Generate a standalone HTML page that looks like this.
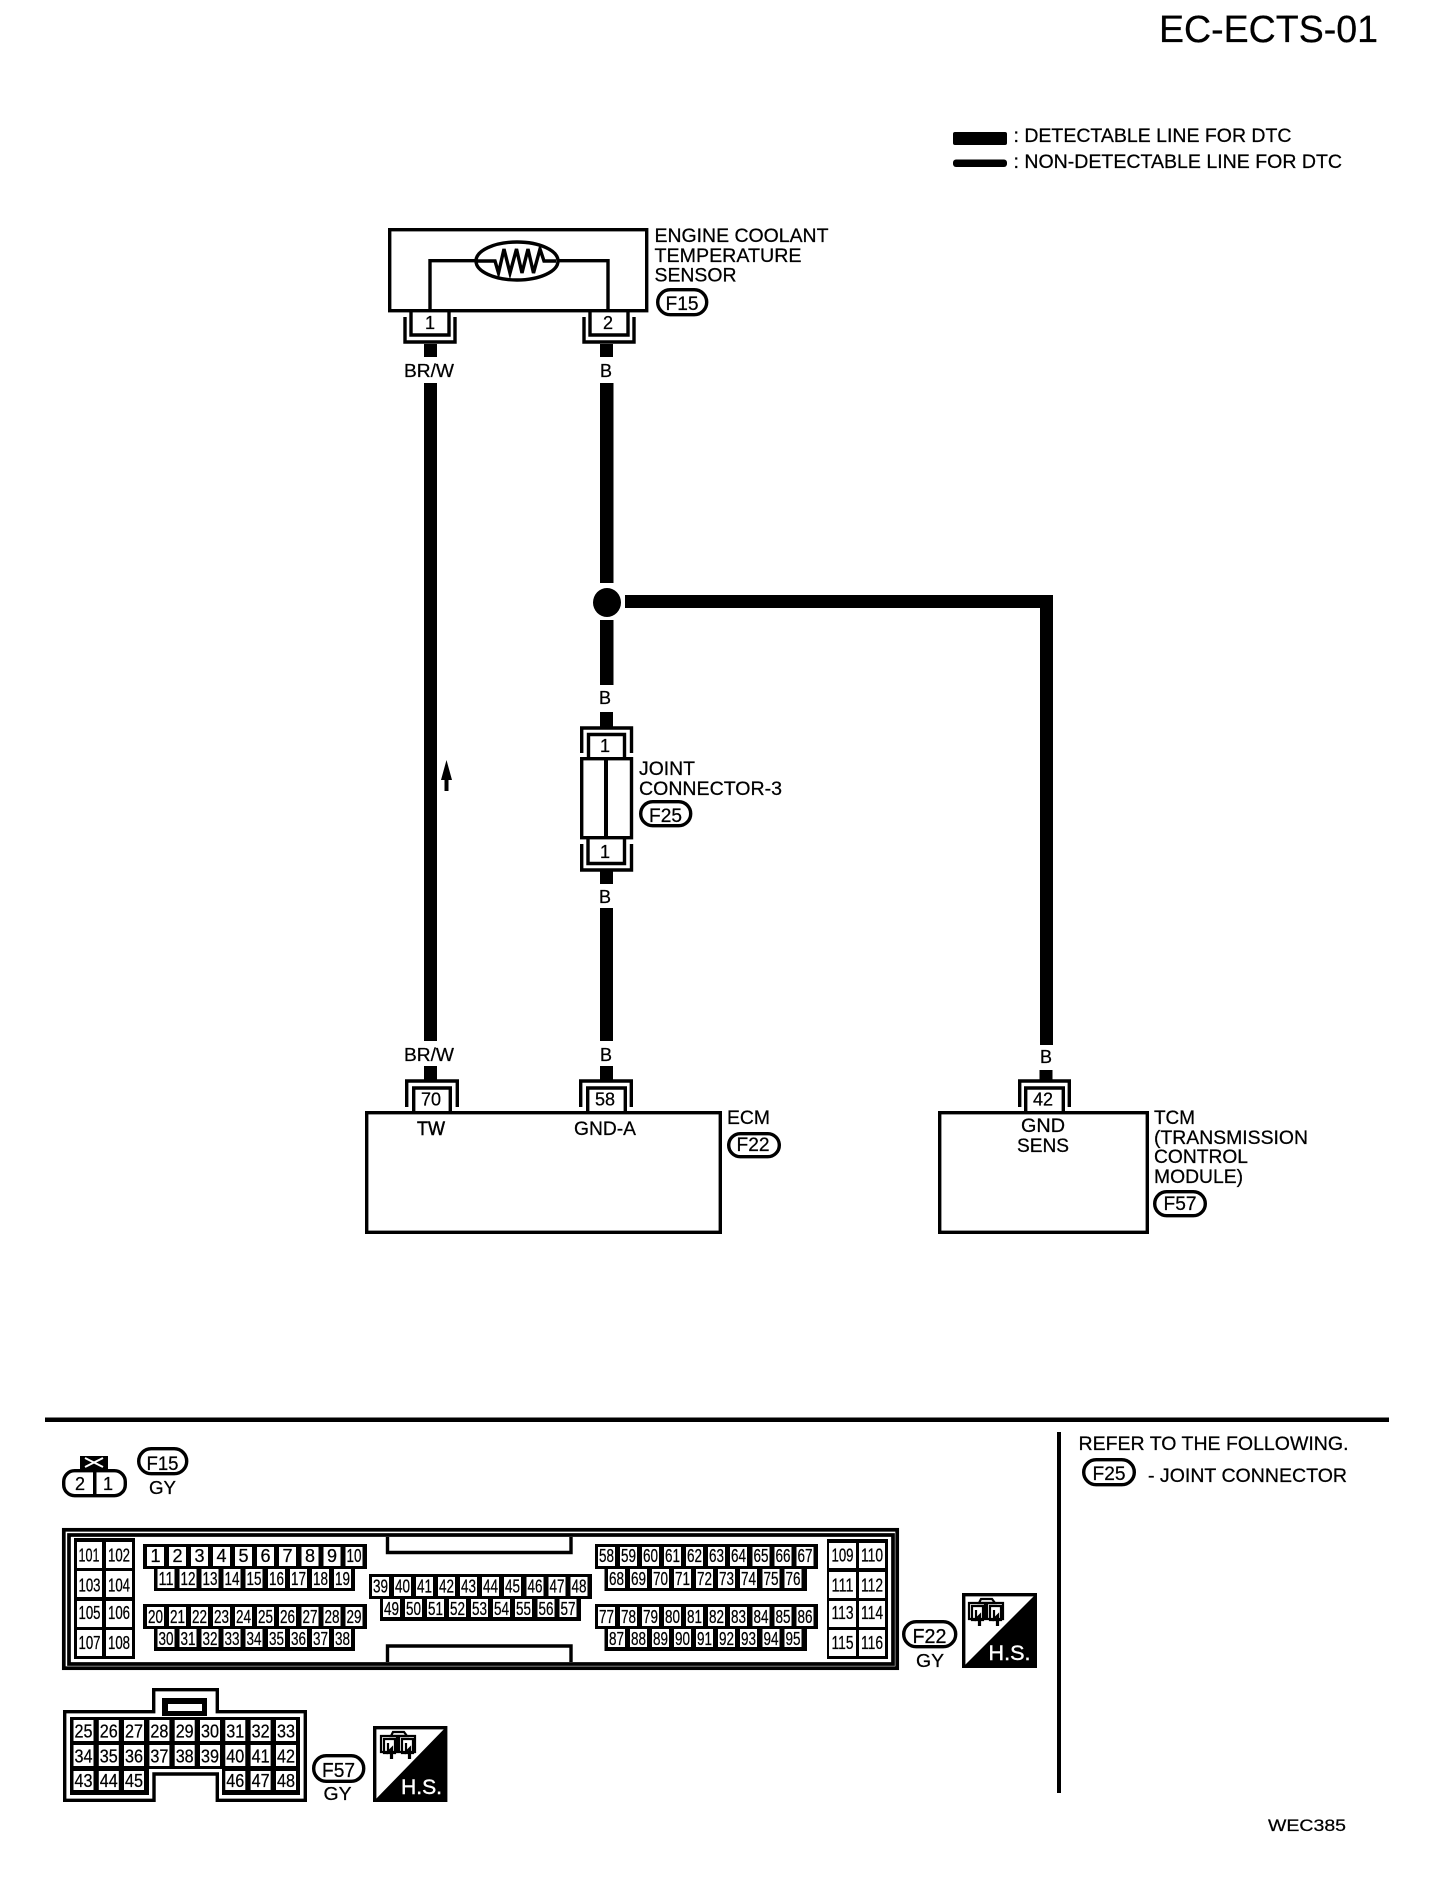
<!DOCTYPE html>
<html><head><meta charset="utf-8"><title>EC-ECTS-01</title>
<style>
html,body{margin:0;padding:0;background:#fff}
svg{display:block}
text{font-family:"Liberation Sans",sans-serif;font-size:19px;fill:#000;stroke:#000;stroke-width:.25}
.m{text-anchor:middle}
.n{font-size:18px}
.f{font-size:20px}
.l{fill:none;stroke:#000;stroke-width:3.4}
.p{fill:#fff;stroke:#000;stroke-width:3.4}
</style></head><body>
<svg width="1440" height="1886" viewBox="0 0 1440 1886" xmlns="http://www.w3.org/2000/svg">
<defs>
<g id="ico" fill="none" stroke="#000" stroke-width="2.2">
<path d="M13 1H24L27 5H11Z"/>
<path d="M1 5H17V21H1ZM4 8H15V22H4Z"/>
<path d="M19 5H35V21H19ZM22 8H33V22H22Z"/>
<path d="M8 12V21L12 17V28M11 20V28M26 12V21L30 17V28M29 20V28"/>
</g>
</defs>
<rect width="1440" height="1886" fill="#fff"/>

<!-- title and legend -->
<text x="1159" y="42" style="font-size:38px" textLength="219" lengthAdjust="spacingAndGlyphs">EC-ECTS-01</text>
<rect x="953" y="132" width="54" height="13" rx="2"/>
<rect x="953" y="159.500" width="54" height="7.500" rx="3"/>
<text x="1013.500" y="142" textLength="278" lengthAdjust="spacingAndGlyphs">: DETECTABLE LINE FOR DTC</text>
<text x="1013.500" y="168" textLength="328.500" lengthAdjust="spacingAndGlyphs">: NON-DETECTABLE LINE FOR DTC</text>

<!-- sensor -->
<rect x="389.700" y="229.700" width="257" height="81" class="l"/>
<path d="M430 311V260.700H608V311" class="l"/>
<ellipse cx="517" cy="261" rx="41" ry="19" class="p"/>
<path d="M477 261H495L498.500 273L504 249L510 273L516.500 249L522 273L528 249L533.500 273L540 249L544 261H556" class="l" stroke-width="3"/>
<path d="M411 312V335H449V312M405 317V342H455V317M590 312V335H628V312M584 317V342H634V317" class="l"/>
<text x="430" y="329" class="m n">1</text>
<text x="608" y="329" class="m n">2</text>
<text x="654.500" y="242" textLength="174" lengthAdjust="spacingAndGlyphs">ENGINE COOLANT</text>
<text x="654.500" y="262" textLength="147" lengthAdjust="spacingAndGlyphs">TEMPERATURE</text>
<text x="654.500" y="281.500" textLength="82" lengthAdjust="spacingAndGlyphs">SENSOR</text>
<rect x="657.700" y="289.700" width="49" height="25" rx="12.500" class="p"/>
<text x="682" y="310" class="m" textLength="33" lengthAdjust="spacingAndGlyphs">F15</text>

<!-- wires -->
<rect x="424" y="344" width="13" height="13"/>
<rect x="600" y="344" width="13" height="13"/>
<rect x="424" y="383" width="13" height="658"/>
<rect x="600" y="383" width="13.500" height="200"/>
<ellipse cx="607" cy="602.500" rx="14" ry="14.500"/>
<rect x="625" y="595" width="428" height="13"/>
<rect x="1040" y="595" width="13" height="450"/>
<rect x="600" y="620" width="13.500" height="65"/>
<rect x="600" y="712" width="13" height="15"/>
<rect x="600" y="871" width="13" height="13"/>
<rect x="600" y="908" width="13" height="133"/>
<rect x="424" y="1066" width="13" height="14"/>
<rect x="600" y="1066" width="13" height="14"/>
<rect x="1039.500" y="1070" width="13" height="10"/>
<path d="M446.500 760L452 780H448.500V791H444.500V780H441Z"/>

<text x="429" y="377" class="m n" textLength="50" lengthAdjust="spacingAndGlyphs">BR/W</text>
<text x="606" y="377" class="m n">B</text>
<text x="605" y="704" class="m n">B</text>
<text x="605" y="903" class="m n">B</text>
<text x="429" y="1061" class="m n" textLength="50" lengthAdjust="spacingAndGlyphs">BR/W</text>
<text x="606" y="1061" class="m n">B</text>
<text x="1046" y="1063" class="m n">B</text>

<!-- joint connector -->
<path d="M581.700 753V728H631.500V753M588.500 757V734.500H624.500V757" class="l"/>
<rect x="581.700" y="758.700" width="49.800" height="79" class="l"/>
<rect x="604" y="758" width="4" height="80"/>
<path d="M588 838V863.500H624.500V838M581.700 844V870H631.500V844" class="l"/>
<text x="605" y="752" class="m n">1</text>
<text x="605" y="858" class="m n">1</text>
<text x="639" y="775" textLength="56" lengthAdjust="spacingAndGlyphs">JOINT</text>
<text x="639" y="795" textLength="143" lengthAdjust="spacingAndGlyphs">CONNECTOR-3</text>
<rect x="640.700" y="801.700" width="50" height="24" rx="12" class="p"/>
<text x="665.500" y="822" class="m" textLength="33" lengthAdjust="spacingAndGlyphs">F25</text>

<!-- ECM -->
<path d="M406.700 1107V1081H457.300V1107M413.700 1112V1088H450.300V1112M580.700 1107V1081H631.300V1107M587.700 1112V1088H625.300V1112" class="l"/>
<rect x="366.700" y="1112.700" width="353.600" height="119.600" class="l"/>
<text x="431" y="1105.500" class="m n">70</text>
<text x="605" y="1105.500" class="m n">58</text>
<text x="431" y="1135" class="m" textLength="28" lengthAdjust="spacingAndGlyphs" style="stroke-width:.5">TW</text>
<text x="605" y="1135" class="m" textLength="62" lengthAdjust="spacingAndGlyphs">GND-A</text>
<text x="727" y="1124" textLength="43" lengthAdjust="spacingAndGlyphs">ECM</text>
<rect x="728.700" y="1133.700" width="50.600" height="23" rx="11.500" class="p"/>
<text x="753" y="1151" class="m" textLength="33" lengthAdjust="spacingAndGlyphs">F22</text>

<!-- TCM -->
<path d="M1019.700 1107V1081H1069.300V1107M1025.700 1112V1088H1063.300V1112" class="l"/>
<rect x="939.700" y="1112.700" width="207.600" height="119.600" class="l"/>
<text x="1043" y="1105.500" class="m n">42</text>
<text x="1043" y="1132" class="m" textLength="44" lengthAdjust="spacingAndGlyphs">GND</text>
<text x="1043" y="1152" class="m" textLength="52" lengthAdjust="spacingAndGlyphs">SENS</text>
<text x="1154" y="1124" textLength="41" lengthAdjust="spacingAndGlyphs">TCM</text>
<text x="1154" y="1144" textLength="154" lengthAdjust="spacingAndGlyphs">(TRANSMISSION</text>
<text x="1154" y="1163" textLength="94" lengthAdjust="spacingAndGlyphs">CONTROL</text>
<text x="1154" y="1183" textLength="89" lengthAdjust="spacingAndGlyphs">MODULE)</text>
<rect x="1154.700" y="1191.700" width="50.600" height="24" rx="12" class="p"/>
<text x="1180" y="1210" class="m" textLength="33" lengthAdjust="spacingAndGlyphs">F57</text>

<!-- dividers -->
<rect x="45" y="1417.500" width="1344" height="4.500"/>
<rect x="1057" y="1432" width="4" height="361"/>
<text x="1078.500" y="1450" textLength="270" lengthAdjust="spacingAndGlyphs">REFER TO THE FOLLOWING.</text>
<rect x="1083.700" y="1459.700" width="50.600" height="25" rx="12.500" class="p"/>
<text x="1109" y="1480" class="m" textLength="33" lengthAdjust="spacingAndGlyphs">F25</text>
<text x="1148" y="1482" textLength="199" lengthAdjust="spacingAndGlyphs">- JOINT CONNECTOR</text>
<text x="1268" y="1831" style="font-size:17px" textLength="78" lengthAdjust="spacingAndGlyphs">WEC385</text>

<!-- F15 connector -->
<rect x="80" y="1456" width="28" height="13"/>
<path d="M85 1458L103 1467M103 1458L85 1467" stroke="#fff" stroke-width="2"/>
<rect x="63.700" y="1470.700" width="61.600" height="25" rx="11" class="p"/>
<rect x="93" y="1469" width="3.500" height="28"/>
<text x="80" y="1490" class="m n">2</text>
<text x="108" y="1490" class="m n">1</text>
<rect x="138.700" y="1448.700" width="48" height="25" rx="12.500" class="p"/>
<text x="162.500" y="1470" class="m" textLength="32" lengthAdjust="spacingAndGlyphs">F15</text>
<text x="162.500" y="1494" class="m n" textLength="27" lengthAdjust="spacingAndGlyphs">GY</text>

<!-- F22 connector frame -->
<rect x="63.800" y="1529.800" width="833.400" height="138.400" class="l" style="stroke-width:3.700"/>
<rect x="69" y="1535" width="824" height="129" class="l" style="stroke-width:3.700"/>
<path d="M387.500 1537V1552.500H571V1537M387.500 1662V1646H571V1662" class="l"/>
<!-- black blocks -->
<path d="M74 1538H135V1659H74ZM827 1539H888V1659H827Z"/>
<path d="M143 1544H367V1569H355V1591H154V1569H143ZM143 1604H367V1629H355V1651H154V1629H143Z"/>
<path d="M369 1574H592V1599H581V1621H380V1599H369Z"/>
<path d="M595 1544H818V1569H807V1591H604.500V1569H595ZM595 1604H818V1629H807V1651H604.500V1629H595Z"/>
<!-- white cells -->
<path fill="#fff" d="M77 1542h25v26h-25zM106 1542h26v26h-26zM77 1571h25v26h-25zM106 1571h26v26h-26zM77 1601h25v26h-25zM106 1601h26v26h-26zM77 1630h25v26h-25zM106 1630h26v26h-26z
M829 1543h27v25h-27zM859 1543h26v25h-26zM829 1572h27v26h-27zM859 1572h26v26h-26zM829 1601h27v26h-27zM859 1601h26v26h-26zM829 1630h27v26h-27zM859 1630h26v26h-26z
M147 1547h17v19h-17zM169 1547h17v19h-17zM191 1547h17v19h-17zM213 1547h17v19h-17zM235 1547h17v19h-17zM257 1547h17v19h-17zM279 1547h17v19h-17zM301.500 1547h17v19h-17zM323.500 1547h17v19h-17zM345.500 1547h17v19h-17z
M157.500 1569h17v19h-17zM179.500 1569h17v19h-17zM201.500 1569h17v19h-17zM223.500 1569h17v19h-17zM245.500 1569h17v19h-17zM268 1569h17v19h-17zM290 1569h17v19h-17zM312 1569h17v19h-17zM334 1569h17v19h-17z
M147 1607h17v19h-17zM169 1607h17v19h-17zM191 1607h17v19h-17zM213 1607h17v19h-17zM235 1607h17v19h-17zM257 1607h17v19h-17zM279 1607h17v19h-17zM301.500 1607h17v19h-17zM323.500 1607h17v19h-17zM345.500 1607h17v19h-17z
M157.500 1629h17v18h-17zM179.500 1629h17v18h-17zM201.500 1629h17v18h-17zM223.500 1629h17v18h-17zM245.500 1629h17v18h-17zM268 1629h17v18h-17zM290 1629h17v18h-17zM312 1629h17v18h-17zM334 1629h17v18h-17z
M372 1577h17v19h-17zM394 1577h17v19h-17zM416 1577h17v19h-17zM438 1577h17v19h-17zM460 1577h17v19h-17zM482 1577h17v19h-17zM504 1577h17v19h-17zM526.500 1577h17v19h-17zM548.500 1577h17v19h-17zM570.500 1577h17v19h-17z
M383 1599h17v18h-17zM405 1599h17v18h-17zM427 1599h17v18h-17zM449 1599h17v18h-17zM471 1599h17v18h-17zM493 1599h17v18h-17zM515 1599h17v18h-17zM537.500 1599h17v18h-17zM559.500 1599h17v18h-17z
M598 1547h17v19h-17zM620 1547h17v19h-17zM642 1547h17v19h-17zM664 1547h17v19h-17zM686 1547h17v19h-17zM708 1547h17v19h-17zM730 1547h17v19h-17zM752.500 1547h17v19h-17zM774.500 1547h17v19h-17zM796.500 1547h17v19h-17z
M608 1569h17v19h-17zM630 1569h17v19h-17zM652 1569h17v19h-17zM674 1569h17v19h-17zM696 1569h17v19h-17zM718 1569h17v19h-17zM740 1569h17v19h-17zM762.500 1569h17v19h-17zM784.500 1569h17v19h-17z
M598 1607h17v19h-17zM620 1607h17v19h-17zM642 1607h17v19h-17zM664 1607h17v19h-17zM686 1607h17v19h-17zM708 1607h17v19h-17zM730 1607h17v19h-17zM752.500 1607h17v19h-17zM774.500 1607h17v19h-17zM796.500 1607h17v19h-17z
M608 1629h17v18h-17zM630 1629h17v18h-17zM652 1629h17v18h-17zM674 1629h17v18h-17zM696 1629h17v18h-17zM718 1629h17v18h-17zM740 1629h17v18h-17zM762.500 1629h17v18h-17zM784.500 1629h17v18h-17z"/>
<!-- labels F22 -->
<g class="cells" style="font-size:18px">
<text class="n" x="78.500" y="1561.500" textLength="21" lengthAdjust="spacingAndGlyphs">101</text><text class="n" x="108" y="1561.500" textLength="22" lengthAdjust="spacingAndGlyphs">102</text>
<text class="n" x="78.500" y="1591.500" textLength="22" lengthAdjust="spacingAndGlyphs">103</text><text class="n" x="108" y="1591.500" textLength="22" lengthAdjust="spacingAndGlyphs">104</text>
<text class="n" x="78.500" y="1619" textLength="22" lengthAdjust="spacingAndGlyphs">105</text><text class="n" x="108" y="1619" textLength="22" lengthAdjust="spacingAndGlyphs">106</text>
<text class="n" x="78.500" y="1649" textLength="22" lengthAdjust="spacingAndGlyphs">107</text><text class="n" x="108" y="1649" textLength="22" lengthAdjust="spacingAndGlyphs">108</text>
<text class="n" x="831.500" y="1561.500" textLength="22" lengthAdjust="spacingAndGlyphs">109</text><text class="n" x="861" y="1561.500" textLength="22" lengthAdjust="spacingAndGlyphs">110</text>
<text class="n" x="831.500" y="1591.500" textLength="22" lengthAdjust="spacingAndGlyphs">111</text><text class="n" x="861" y="1591.500" textLength="22" lengthAdjust="spacingAndGlyphs">112</text>
<text class="n" x="831.500" y="1619" textLength="22" lengthAdjust="spacingAndGlyphs">113</text><text class="n" x="861" y="1619" textLength="22" lengthAdjust="spacingAndGlyphs">114</text>
<text class="n" x="831.500" y="1649" textLength="22" lengthAdjust="spacingAndGlyphs">115</text><text class="n" x="861" y="1649" textLength="22" lengthAdjust="spacingAndGlyphs">116</text>

<text class="n m" x="155.500" y="1562">1</text><text class="n m" x="177.500" y="1562">2</text><text class="n m" x="199.500" y="1562">3</text><text class="n m" x="221.500" y="1562">4</text><text class="n m" x="243.500" y="1562">5</text><text class="n m" x="265.500" y="1562">6</text><text class="n m" x="287.500" y="1562">7</text><text class="n m" x="310" y="1562">8</text><text class="n m" x="332" y="1562">9</text>
<text class="n" x="346.500" y="1562" textLength="15" lengthAdjust="spacingAndGlyphs">10</text>
<text class="n" x="158.500" y="1585" textLength="15" lengthAdjust="spacingAndGlyphs">11</text><text class="n" x="180.500" y="1585" textLength="15" lengthAdjust="spacingAndGlyphs">12</text><text class="n" x="202.500" y="1585" textLength="15" lengthAdjust="spacingAndGlyphs">13</text><text class="n" x="224.500" y="1585" textLength="15" lengthAdjust="spacingAndGlyphs">14</text><text class="n" x="246.500" y="1585" textLength="15" lengthAdjust="spacingAndGlyphs">15</text><text class="n" x="269" y="1585" textLength="15" lengthAdjust="spacingAndGlyphs">16</text><text class="n" x="291" y="1585" textLength="15" lengthAdjust="spacingAndGlyphs">17</text><text class="n" x="313" y="1585" textLength="15" lengthAdjust="spacingAndGlyphs">18</text><text class="n" x="335" y="1585" textLength="15" lengthAdjust="spacingAndGlyphs">19</text>
<text class="n" x="148" y="1623" textLength="15" lengthAdjust="spacingAndGlyphs">20</text><text class="n" x="170" y="1623" textLength="15" lengthAdjust="spacingAndGlyphs">21</text><text class="n" x="192" y="1623" textLength="15" lengthAdjust="spacingAndGlyphs">22</text><text class="n" x="214" y="1623" textLength="15" lengthAdjust="spacingAndGlyphs">23</text><text class="n" x="236" y="1623" textLength="15" lengthAdjust="spacingAndGlyphs">24</text><text class="n" x="258" y="1623" textLength="15" lengthAdjust="spacingAndGlyphs">25</text><text class="n" x="280" y="1623" textLength="15" lengthAdjust="spacingAndGlyphs">26</text><text class="n" x="302.500" y="1623" textLength="15" lengthAdjust="spacingAndGlyphs">27</text><text class="n" x="324.500" y="1623" textLength="15" lengthAdjust="spacingAndGlyphs">28</text><text class="n" x="346.500" y="1623" textLength="15" lengthAdjust="spacingAndGlyphs">29</text>
<text class="n" x="158.500" y="1645" textLength="15" lengthAdjust="spacingAndGlyphs">30</text><text class="n" x="180.500" y="1645" textLength="15" lengthAdjust="spacingAndGlyphs">31</text><text class="n" x="202.500" y="1645" textLength="15" lengthAdjust="spacingAndGlyphs">32</text><text class="n" x="224.500" y="1645" textLength="15" lengthAdjust="spacingAndGlyphs">33</text><text class="n" x="246.500" y="1645" textLength="15" lengthAdjust="spacingAndGlyphs">34</text><text class="n" x="269" y="1645" textLength="15" lengthAdjust="spacingAndGlyphs">35</text><text class="n" x="291" y="1645" textLength="15" lengthAdjust="spacingAndGlyphs">36</text><text class="n" x="313" y="1645" textLength="15" lengthAdjust="spacingAndGlyphs">37</text><text class="n" x="335" y="1645" textLength="15" lengthAdjust="spacingAndGlyphs">38</text>
<text class="n" x="373" y="1592.500" textLength="15" lengthAdjust="spacingAndGlyphs">39</text><text class="n" x="395" y="1592.500" textLength="15" lengthAdjust="spacingAndGlyphs">40</text><text class="n" x="417" y="1592.500" textLength="15" lengthAdjust="spacingAndGlyphs">41</text><text class="n" x="439" y="1592.500" textLength="15" lengthAdjust="spacingAndGlyphs">42</text><text class="n" x="461" y="1592.500" textLength="15" lengthAdjust="spacingAndGlyphs">43</text><text class="n" x="483" y="1592.500" textLength="15" lengthAdjust="spacingAndGlyphs">44</text><text class="n" x="505" y="1592.500" textLength="15" lengthAdjust="spacingAndGlyphs">45</text><text class="n" x="527.500" y="1592.500" textLength="15" lengthAdjust="spacingAndGlyphs">46</text><text class="n" x="549.500" y="1592.500" textLength="15" lengthAdjust="spacingAndGlyphs">47</text><text class="n" x="571.500" y="1592.500" textLength="15" lengthAdjust="spacingAndGlyphs">48</text>
<text class="n" x="384" y="1615" textLength="15" lengthAdjust="spacingAndGlyphs">49</text><text class="n" x="406" y="1615" textLength="15" lengthAdjust="spacingAndGlyphs">50</text><text class="n" x="428" y="1615" textLength="15" lengthAdjust="spacingAndGlyphs">51</text><text class="n" x="450" y="1615" textLength="15" lengthAdjust="spacingAndGlyphs">52</text><text class="n" x="472" y="1615" textLength="15" lengthAdjust="spacingAndGlyphs">53</text><text class="n" x="494" y="1615" textLength="15" lengthAdjust="spacingAndGlyphs">54</text><text class="n" x="516" y="1615" textLength="15" lengthAdjust="spacingAndGlyphs">55</text><text class="n" x="538.500" y="1615" textLength="15" lengthAdjust="spacingAndGlyphs">56</text><text class="n" x="560.500" y="1615" textLength="15" lengthAdjust="spacingAndGlyphs">57</text>
<text class="n" x="599" y="1562" textLength="15" lengthAdjust="spacingAndGlyphs">58</text><text class="n" x="621" y="1562" textLength="15" lengthAdjust="spacingAndGlyphs">59</text><text class="n" x="643" y="1562" textLength="15" lengthAdjust="spacingAndGlyphs">60</text><text class="n" x="665" y="1562" textLength="15" lengthAdjust="spacingAndGlyphs">61</text><text class="n" x="687" y="1562" textLength="15" lengthAdjust="spacingAndGlyphs">62</text><text class="n" x="709" y="1562" textLength="15" lengthAdjust="spacingAndGlyphs">63</text><text class="n" x="731" y="1562" textLength="15" lengthAdjust="spacingAndGlyphs">64</text><text class="n" x="753.500" y="1562" textLength="15" lengthAdjust="spacingAndGlyphs">65</text><text class="n" x="775.500" y="1562" textLength="15" lengthAdjust="spacingAndGlyphs">66</text><text class="n" x="797.500" y="1562" textLength="15" lengthAdjust="spacingAndGlyphs">67</text>
<text class="n" x="609" y="1585" textLength="15" lengthAdjust="spacingAndGlyphs">68</text><text class="n" x="631" y="1585" textLength="15" lengthAdjust="spacingAndGlyphs">69</text><text class="n" x="653" y="1585" textLength="15" lengthAdjust="spacingAndGlyphs">70</text><text class="n" x="675" y="1585" textLength="15" lengthAdjust="spacingAndGlyphs">71</text><text class="n" x="697" y="1585" textLength="15" lengthAdjust="spacingAndGlyphs">72</text><text class="n" x="719" y="1585" textLength="15" lengthAdjust="spacingAndGlyphs">73</text><text class="n" x="741" y="1585" textLength="15" lengthAdjust="spacingAndGlyphs">74</text><text class="n" x="763.500" y="1585" textLength="15" lengthAdjust="spacingAndGlyphs">75</text><text class="n" x="785.500" y="1585" textLength="15" lengthAdjust="spacingAndGlyphs">76</text>
<text class="n" x="599" y="1623" textLength="15" lengthAdjust="spacingAndGlyphs">77</text><text class="n" x="621" y="1623" textLength="15" lengthAdjust="spacingAndGlyphs">78</text><text class="n" x="643" y="1623" textLength="15" lengthAdjust="spacingAndGlyphs">79</text><text class="n" x="665" y="1623" textLength="15" lengthAdjust="spacingAndGlyphs">80</text><text class="n" x="687" y="1623" textLength="15" lengthAdjust="spacingAndGlyphs">81</text><text class="n" x="709" y="1623" textLength="15" lengthAdjust="spacingAndGlyphs">82</text><text class="n" x="731" y="1623" textLength="15" lengthAdjust="spacingAndGlyphs">83</text><text class="n" x="753.500" y="1623" textLength="15" lengthAdjust="spacingAndGlyphs">84</text><text class="n" x="775.500" y="1623" textLength="15" lengthAdjust="spacingAndGlyphs">85</text><text class="n" x="797.500" y="1623" textLength="15" lengthAdjust="spacingAndGlyphs">86</text>
<text class="n" x="609" y="1645" textLength="15" lengthAdjust="spacingAndGlyphs">87</text><text class="n" x="631" y="1645" textLength="15" lengthAdjust="spacingAndGlyphs">88</text><text class="n" x="653" y="1645" textLength="15" lengthAdjust="spacingAndGlyphs">89</text><text class="n" x="675" y="1645" textLength="15" lengthAdjust="spacingAndGlyphs">90</text><text class="n" x="697" y="1645" textLength="15" lengthAdjust="spacingAndGlyphs">91</text><text class="n" x="719" y="1645" textLength="15" lengthAdjust="spacingAndGlyphs">92</text><text class="n" x="741" y="1645" textLength="15" lengthAdjust="spacingAndGlyphs">93</text><text class="n" x="763.500" y="1645" textLength="15" lengthAdjust="spacingAndGlyphs">94</text><text class="n" x="785.500" y="1645" textLength="15" lengthAdjust="spacingAndGlyphs">95</text>
</g>
<rect x="903.700" y="1621.700" width="52" height="25" rx="12.500" class="p"/>
<text x="929.500" y="1643" class="m f" textLength="34" lengthAdjust="spacingAndGlyphs">F22</text>
<text x="930" y="1667" class="m n" textLength="28" lengthAdjust="spacingAndGlyphs">GY</text>
<rect x="963.700" y="1594.700" width="71.600" height="71.600" class="p"/>
<path d="M1037 1593V1668H962Z"/>
<use href="#ico" x="968" y="1598"/>
<text x="988.500" y="1660" style="font-size:21px;fill:#fff;stroke:#fff;stroke-width:.4" textLength="42" lengthAdjust="spacingAndGlyphs">H.S.</text>

<!-- F57 connector -->
<path d="M70 1717H300V1795H222V1769H149V1795H70Z"/>
<path d="M64.700 1711.700H153.700V1689.700H217.300V1711.700H305.300V1800.300H217.300V1774H154V1800.300H64.700Z" class="l"/>
<rect x="162" y="1698" width="45" height="18"/>
<rect x="168" y="1704" width="34" height="7" fill="#fff"/>
<path fill="#fff" d="M73.500 1720h20v21h-20zM98.800 1720h20v21h-20zM124 1720h20v21h-20zM149.400 1720h20v21h-20zM174.700 1720h20v21h-20zM200 1720h20v21h-20zM225.300 1720h20v21h-20zM250.600 1720h20v21h-20zM276 1720h20v21h-20z
M73.500 1745h20v21h-20zM98.800 1745h20v21h-20zM124 1745h20v21h-20zM149.400 1745h20v21h-20zM174.700 1745h20v21h-20zM200 1745h20v21h-20zM225.300 1745h20v21h-20zM250.600 1745h20v21h-20zM276 1745h20v21h-20z
M73.500 1771h20v19h-20zM98.800 1771h20v19h-20zM124 1771h20v19h-20zM225.300 1771h20v19h-20zM250.600 1771h20v19h-20zM276 1771h20v19h-20z"/>
<text class="n" x="74.500" y="1737.500" textLength="18" lengthAdjust="spacingAndGlyphs">25</text><text class="n" x="99.800" y="1737.500" textLength="18" lengthAdjust="spacingAndGlyphs">26</text><text class="n" x="125" y="1737.500" textLength="18" lengthAdjust="spacingAndGlyphs">27</text><text class="n" x="150.400" y="1737.500" textLength="18" lengthAdjust="spacingAndGlyphs">28</text><text class="n" x="175.700" y="1737.500" textLength="18" lengthAdjust="spacingAndGlyphs">29</text><text class="n" x="201" y="1737.500" textLength="18" lengthAdjust="spacingAndGlyphs">30</text><text class="n" x="226.300" y="1737.500" textLength="18" lengthAdjust="spacingAndGlyphs">31</text><text class="n" x="251.600" y="1737.500" textLength="18" lengthAdjust="spacingAndGlyphs">32</text><text class="n" x="277" y="1737.500" textLength="18" lengthAdjust="spacingAndGlyphs">33</text>
<text class="n" x="74.500" y="1762.500" textLength="18" lengthAdjust="spacingAndGlyphs">34</text><text class="n" x="99.800" y="1762.500" textLength="18" lengthAdjust="spacingAndGlyphs">35</text><text class="n" x="125" y="1762.500" textLength="18" lengthAdjust="spacingAndGlyphs">36</text><text class="n" x="150.400" y="1762.500" textLength="18" lengthAdjust="spacingAndGlyphs">37</text><text class="n" x="175.700" y="1762.500" textLength="18" lengthAdjust="spacingAndGlyphs">38</text><text class="n" x="201" y="1762.500" textLength="18" lengthAdjust="spacingAndGlyphs">39</text><text class="n" x="226.300" y="1762.500" textLength="18" lengthAdjust="spacingAndGlyphs">40</text><text class="n" x="251.600" y="1762.500" textLength="18" lengthAdjust="spacingAndGlyphs">41</text><text class="n" x="277" y="1762.500" textLength="18" lengthAdjust="spacingAndGlyphs">42</text>
<text class="n" x="74.500" y="1787" textLength="18" lengthAdjust="spacingAndGlyphs">43</text><text class="n" x="99.800" y="1787" textLength="18" lengthAdjust="spacingAndGlyphs">44</text><text class="n" x="125" y="1787" textLength="18" lengthAdjust="spacingAndGlyphs">45</text><text class="n" x="226.300" y="1787" textLength="18" lengthAdjust="spacingAndGlyphs">46</text><text class="n" x="251.600" y="1787" textLength="18" lengthAdjust="spacingAndGlyphs">47</text><text class="n" x="277" y="1787" textLength="18" lengthAdjust="spacingAndGlyphs">48</text>
<rect x="313.700" y="1755.700" width="50" height="25.600" rx="12.500" class="p"/>
<text x="338.500" y="1777" class="m f" textLength="33" lengthAdjust="spacingAndGlyphs">F57</text>
<text x="337.500" y="1800" class="m n" textLength="28" lengthAdjust="spacingAndGlyphs">GY</text>
<rect x="374.700" y="1727.700" width="71" height="72.600" class="p"/>
<path d="M447 1726V1802H373Z"/>
<use href="#ico" x="380" y="1731"/>
<text x="401" y="1794" style="font-size:21px;fill:#fff;stroke:#fff;stroke-width:.4" textLength="41" lengthAdjust="spacingAndGlyphs">H.S.</text>
</svg>
</body></html>
